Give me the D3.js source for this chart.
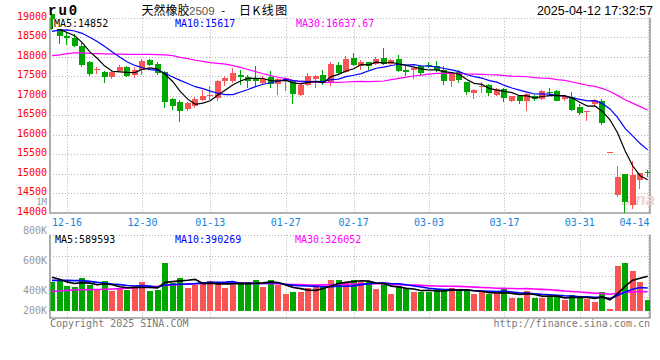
<!DOCTYPE html>
<html><head><meta charset="utf-8">
<script src="https://cdn.jsdelivr.net/npm/d3@7"></script>
<style>body{margin:0;background:#fff}svg{display:block}</style>
</head><body><svg id="c" width="660" height="360"></svg>
<script>
const dates = ["12-12","12-13","12-16","12-17","12-18","12-19","12-20","12-23","12-24","12-25","12-26","12-27","12-30","12-31","01-02","01-03","01-06","01-07","01-08","01-09","01-10","01-13","01-14","01-15","01-16","01-17","01-20","01-21","01-22","01-23","01-24","01-27","02-05","02-06","02-07","02-10","02-11","02-12","02-13","02-14","02-17","02-18","02-19","02-20","02-21","02-24","02-25","02-26","02-27","02-28","03-03","03-04","03-05","03-06","03-07","03-10","03-11","03-12","03-13","03-14","03-17","03-18","03-19","03-20","03-21","03-24","03-25","03-26","03-27","03-28","03-31","04-01","04-02","04-03","04-07","04-08","04-09","04-10","04-11","04-14"];
const open = [19100,18700,18540,18480,18280,17860,17680,17620,17474,17643,
17735,17538,17667,17923,17812,17607,16923,16830,16658,16744,
16898,17000,16940,17367,17385,17539,17479,17427,17325,17470,
17308,17385,17368,17026,17282,17440,17539,17325,17795,17598,
17966,17770,17855,17820,17966,17820,17940,17650,17650,17770,
17800,17770,17650,17368,17598,17342,17069,17222,17282,17026,
17171,16872,17000,16855,17000,16915,17100,17111,16915,16958,
16701,16590,16787,16872,15555,14462,15000,14200,14846,15060];
const high = [19120,18720,18620,18590,18350,17880,17750,17630,17640,17790,
17760,17727,17940,17950,17863,17624,16950,16900,16830,16966,
17137,17240,17400,17513,17710,17667,17539,17770,17496,17624,
17453,17479,17380,17300,17581,17539,17667,17855,17855,18025,
18094,17906,17870,17990,18222,17940,18051,17752,17710,17800,
17863,17898,17752,17600,17650,17360,17171,17360,17308,17197,
17190,17000,17026,17069,17026,17137,17197,17154,17026,17086,
16795,16607,16920,16923,15555,15214,15000,15342,15022,15103];
const low = [18690,18330,18300,18250,17750,17500,17560,17330,17430,17600,
17480,17453,17538,17770,17540,16684,16641,16342,16624,16684,
16880,16898,16855,17240,17325,17282,17197,17257,17282,17197,
17026,17111,16795,16983,17240,17197,17282,17257,17539,17581,
17752,17650,17650,17778,17795,17795,17598,17496,17427,17540,
17700,17598,17265,17214,17325,17026,16915,17069,17000,17000,
16830,16830,16787,16624,16880,16898,17026,16855,16855,16599,
16513,16359,16770,16257,15555,14419,14009,14094,14607,14915];
const close = [18710,18540,18480,18280,17800,17560,17690,17474,17618,17730,
17496,17650,17898,17795,17582,16830,16727,16624,16812,16923,
16983,17025,17367,17453,17581,17470,17368,17368,17427,17308,
17428,17453,17052,17282,17513,17513,17325,17821,17581,17940,
17795,17863,17770,17940,17820,17906,17641,17598,17710,17590,
17770,17650,17368,17581,17400,17086,17154,17240,17069,17171,
16939,16983,16855,17052,16915,17111,17095,16880,17000,16641,
16556,16607,16898,16294,15555,14932,14291,14975,15022,15040];
const volume = [487000,515000,432000,415000,560000,444000,377000,515000,338000,393000,
349000,415000,499000,338000,365000,817000,477000,563000,385000,443000,
463000,518000,499000,385000,443000,499000,499000,532000,415000,532000,
449000,282000,318000,318000,396000,443000,430000,532000,532000,499000,
521000,493000,493000,371000,466000,288000,427000,371000,315000,327000,
320000,373000,373000,390000,336000,336000,292000,319000,281000,298000,
373000,228000,228000,346000,228000,228000,232000,232000,195000,270870,
240000,205000,160000,320000,29725,768000,819000,678000,497000,185965];
const ma5Head = [18760,18700,18620,18540];
const ma10Head = [18650,18680,18690,18660,18600,18500,18390,18260,18120];
const ma30Head = [18030,18050,18080,18100,18100,18085,18080,18075,18070,18065,18060,18060,18060,18060,18055,18050,18030,17985,17950,17910,17880,17850,17830,17810,17775,17730,17675,17620,17565];
const vma5Head = [575000,540000,495000,468000];
const vma10Head = [521000,521000,521000,516000,516000,504000,487000,476000,459000];
const vma30Head = [334000,340000,350000,357000,360000,363000,366000,370000,375000,380000,388000,397000,403000,408000,420000,435000,443000,450000,456000,462000,467000,472000,474000,476000,475000,474000,472000,470000,468000];
const priceTicks = [14000,14500,15000,15500,16000,16500,17000,17500,18000,18500,19000];
const dateTicks = ["12-16","12-30","01-13","01-27","02-17","03-03","03-17","03-31","04-14"];
const volTickLabels = ["800K","600K","400K","200K"];
const symbol = "ru0";
const titleName = "天然橡胶", titleCode = "2509", titleTail = "日K线图";
const stamp = "2025-04-12 17:32:57";
const periodLabel = "1M";

const RED = "#fa5555", GREEN = "#00a600";
const mono = '"DejaVu Sans Mono","Liberation Mono",monospace';
const L = 50, R = 650, pTop = 17.7, pBot = 213, vTop = 234.7, vBase = 311, vBot = 318;

const svg = d3.select("#c");
const x = d3.scaleLinear().domain([0, close.length - 1]).range([52, 647.7]);
const y = d3.scaleLinear().domain([14000, 19000]).range([pBot, pTop]);
const yv = d3.scaleLinear().domain([0, 1297000]).range([vBase, vTop]);

function ma(arr, n, head) {
  return arr.map((_, i) => i < n - 1 ? head[i] : d3.mean(arr.slice(i - n + 1, i + 1)));
}
const fmt = v => Number.isInteger(+v.toFixed(4)) ? String(Math.round(v)) : v.toFixed(2);

const defs = svg.append("defs");
defs.append("clipPath").attr("id", "cp").append("rect").attr("x", L + 0.5).attr("y", 0).attr("width", R - L - 0.5).attr("height", pBot);
defs.append("clipPath").attr("id", "cv").append("rect").attr("x", L + 0.5).attr("y", vTop).attr("width", R - L - 0.5).attr("height", vBot - vTop);

const tickIdx = dateTicks.map(d => dates.indexOf(d));
const grid = svg.append("g").attr("stroke", "#b4b4b4").attr("stroke-dasharray", "1,2").attr("stroke-width", 1);
priceTicks.filter(v => v > 14000).forEach(v => {
  const yy = Math.round(y(v)) + 0.5;
  grid.append("line").attr("x1", L).attr("x2", R).attr("y1", yy).attr("y2", yy);
});
tickIdx.forEach(i => {
  const xx = Math.round(x(i)) + 0.5;
  grid.append("line").attr("x1", xx).attr("x2", xx).attr("y1", pTop).attr("y2", pBot);
  grid.append("line").attr("x1", xx).attr("x2", xx).attr("y1", vTop).attr("y2", vBot);
});
const vRows = d3.scaleLinear().domain([0, 4]).range([vTop, vBot]);
[0, 1, 2, 3].forEach(k => {
  const yy = Math.round(vRows(k)) + 0.5;
  grid.append("line").attr("x1", L).attr("x2", R).attr("y1", yy).attr("y2", yy);
});

const fr = svg.append("g").attr("stroke", "#9a9a9a").attr("stroke-width", 1.6).attr("fill", "none");
fr.append("path").attr("d", `M${L},${pTop}V${pBot}H${R}V${pTop}`);
fr.append("path").attr("d", `M${L},${vTop}V${vBot}H${R}V${vTop}`);

svg.append("text").attr("x", 621).attr("y", 205).text("sina")
  .attr("font-family", "Liberation Sans, sans-serif").attr("font-size", 17).attr("font-style", "italic").attr("font-weight", "bold")
  .attr("fill", "#f3d2d2");

const up = i => close[i] >= open[i];
const cg = svg.append("g").attr("clip-path", "url(#cp)").attr("shape-rendering", "crispEdges");
close.forEach((c, i) => {
  const col = up(i) ? RED : GREEN;
  const bx = Math.round(x(i) - 3);
  cg.append("line").attr("x1", bx + 2.5).attr("x2", bx + 2.5).attr("y1", y(high[i])).attr("y2", y(low[i])).attr("stroke", col);
  const y0 = y(Math.max(open[i], c)), y1 = y(Math.min(open[i], c));
  cg.append("rect").attr("x", bx).attr("width", 6).attr("y", y0).attr("height", Math.max(1, y1 - y0)).attr("fill", col);
});

const ma5 = ma(close, 5, ma5Head), ma10 = ma(close, 10, ma10Head), ma30 = ma(close, 30, ma30Head);
const lineP = d3.line().x((d, i) => x(i)).y(d => y(d));
const mg = svg.append("g").attr("clip-path", "url(#cp)").attr("fill", "none");
mg.append("path").attr("d", lineP(ma30)).attr("stroke", "#ff00ff").attr("stroke-width", 1.2);
mg.append("path").attr("d", lineP(ma10)).attr("stroke", "#0000ff").attr("stroke-width", 1.2);
mg.append("path").attr("d", lineP(ma5)).attr("stroke", "#000").attr("stroke-width", 1.2);

const vg = svg.append("g").attr("clip-path", "url(#cv)").attr("shape-rendering", "crispEdges");
volume.forEach((v, i) => {
  const bx = Math.round(x(i) - 3);
  vg.append("rect").attr("x", bx).attr("width", 6).attr("y", yv(v)).attr("height", yv(0) - yv(v)).attr("fill", up(i) ? RED : GREEN);
});
const vma5 = ma(volume, 5, vma5Head), vma10 = ma(volume, 10, vma10Head), vma30 = ma(volume, 30, vma30Head);
const lineV = d3.line().x((d, i) => x(i)).y(d => yv(d));
const vm = svg.append("g").attr("clip-path", "url(#cv)").attr("fill", "none");
vm.append("path").attr("d", lineV(vma30)).attr("stroke", "#ff00ff").attr("stroke-width", 1.6);
vm.append("path").attr("d", lineV(vma10)).attr("stroke", "#0000ff").attr("stroke-width", 1.6);
vm.append("path").attr("d", lineV(vma5)).attr("stroke", "#000").attr("stroke-width", 1.6);

function legend(x0, yb, txt, col) {
  const t = svg.append("text").attr("x", x0).attr("y", yb).text(txt).attr("fill", col)
    .attr("font-family", mono).attr("font-size", 10);
  const b = t.node().getBBox();
  svg.insert("rect", () => t.node()).attr("x", b.x - 1).attr("y", b.y + 1).attr("width", b.width + 2).attr("height", b.height - 1).attr("fill", "#fff");
}
const last = a => a[a.length - 1];
legend(54, 27, "MA5:" + fmt(last(ma5)), "#000");
legend(175, 27, "MA10:" + fmt(last(ma10)), "#0000ff");
legend(296, 27, "MA30:" + fmt(last(ma30)), "#ff00ff");
legend(55, 242.5, "MA5:" + fmt(last(vma5)), "#000");
legend(175, 242.5, "MA10:" + fmt(last(vma10)), "#0000ff");
legend(295, 242.5, "MA30:" + fmt(last(vma30)), "#ff00ff");

svg.append("g").selectAll("text").data(priceTicks).join("text")
  .attr("x", 47).attr("y", d => y(d) + 1.8).attr("text-anchor", "end")
  .attr("font-family", mono).attr("font-size", 10).attr("fill", "#f00").text(d => d);
svg.append("text").attr("x", 47).attr("y", 204.5).attr("text-anchor", "end")
  .attr("font-family", mono).attr("font-size", 9).attr("fill", "#999").text(periodLabel);

svg.append("g").selectAll("text").data(dateTicks).join("text")
  .attr("x", (d, k) => Math.min(x(tickIdx[k]), R - 15.5)).attr("y", 225.5).attr("text-anchor", "middle")
  .attr("font-family", mono).attr("font-size", 10).attr("fill", "#1584d8").text(d => d);

const vl = d3.scalePoint().domain(volTickLabels).range([234, 324]);
svg.append("g").selectAll("text").data(volTickLabels).join("text")
  .attr("x", 47).attr("y", d => Math.min(vl(d), 314)).attr("text-anchor", "end")
  .attr("font-family", mono).attr("font-size", 10).attr("fill", "#999").text(d => d);

svg.append("text").attr("x", 48).attr("y", 14.5).text(symbol)
  .attr("font-family", '"Liberation Mono",monospace').attr("font-weight", "bold").attr("font-size", 14).attr("letter-spacing", 2).attr("fill", "#000");
const tt = svg.append("text").attr("y", 15).attr("font-family", '"Noto Sans CJK SC",sans-serif').attr("font-size", 12).attr("fill", "#000");
tt.append("tspan").attr("x", 141.5).text(titleName);
tt.append("tspan").attr("x", 189).attr("font-family", '"Liberation Sans",sans-serif').attr("font-size", 11.5).attr("fill", "#555").text(titleCode);
tt.append("tspan").attr("x", 221).text("-");
tt.append("tspan").attr("x", 239).attr("letter-spacing", 1.5).text(titleTail);
svg.append("text").attr("x", 653).attr("y", 15).attr("text-anchor", "end").text(stamp)
  .attr("font-family", '"Liberation Sans",sans-serif').attr("font-size", 12.5).attr("fill", "#000");

svg.append("text").attr("x", 50).attr("y", 327).text("Copyright 2025 SINA.COM")
  .attr("font-family", mono).attr("font-size", 10).attr("fill", "#7a7a7a");
svg.append("text").attr("x", 650).attr("y", 327).attr("text-anchor", "end").text("http://finance.sina.com.cn")
  .attr("font-family", mono).attr("font-size", 10).attr("fill", "#7a7a7a");
</script></body></html>
